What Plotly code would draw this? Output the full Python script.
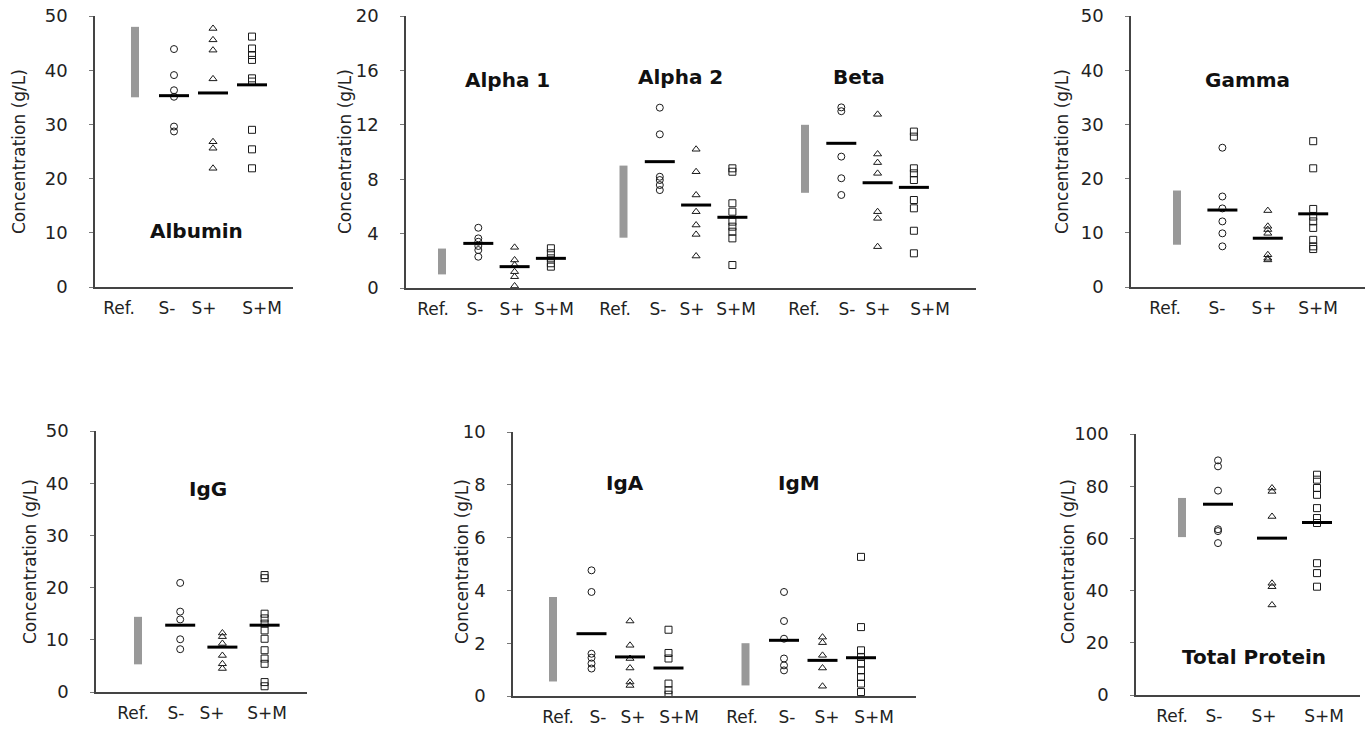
import plotly.graph_objects as go

W, H = 1368, 730
FONT = "DejaVu Sans"

CATS = ["Ref.", "S-", "S+", "S+M"]

# ---------------- data (g/L) ----------------
alb_ref = [35.0, 48.0]
alb_sneg = [43.9, 39.1, 36.3, 35.1, 29.6, 28.7]
alb_spos = [47.7, 45.6, 43.7, 38.4, 26.8, 25.6, 21.9]
alb_spm = [46.2, 44.0, 42.8, 41.9, 38.5, 37.9, 29.0, 25.4, 21.9]
alb_means = [35.3, 35.8, 37.3]

a1_ref = [1.0, 2.9]
a1_sneg = [4.43, 3.65, 3.4, 3.09, 2.79, 2.3]
a1_spos = [2.99, 2.06, 1.69, 1.2, 0.83, 0.15]
a1_spm = [2.92, 2.55, 2.18, 1.82, 1.57]
a1_means = [3.28, 1.57, 2.18]

a2_ref = [3.7, 9.0]
a2_sneg = [13.26, 11.3, 8.18, 7.94, 7.57, 7.2]
a2_spos = [10.2, 8.55, 6.84, 5.61, 4.63, 3.94, 2.35]
a2_spm = [8.8, 8.55, 6.23, 5.61, 4.88, 4.51, 4.14, 3.65, 1.69]
a2_means = [9.29, 6.1, 5.2]

beta_ref = [7.0, 12.0]
beta_sneg = [13.28, 13.0, 9.66, 8.07, 6.84]
beta_spos = [12.77, 9.85, 9.22, 8.43, 5.61, 5.12, 3.04]
beta_spm = [11.5, 11.13, 8.8, 8.43, 7.94, 6.47, 5.86, 4.21, 2.55]
beta_means = [10.64, 7.74, 7.4]

gam_ref = [7.8, 17.8]
gam_sneg = [25.7, 16.7, 14.5, 12.1, 9.9, 7.5]
gam_spos = [14.1, 11.2, 10.6, 9.9, 5.95, 5.3, 5.0]
gam_spm = [26.9, 21.9, 14.4, 13.0, 12.1, 10.9, 8.7, 7.5, 7.0]
gam_means = [14.2, 9.0, 13.5]

igg_ref = [5.3, 14.4]
igg_sneg = [20.9, 15.4, 13.9, 10.1, 8.2]
igg_spos = [11.3, 10.6, 9.3, 7.0, 5.4, 4.5]
igg_spm = [22.4, 21.8, 15.0, 14.1, 13.1, 11.8, 10.2, 8.0, 6.4, 5.4, 1.9, 1.1]
igg_means = [12.8, 8.6, 12.8]

iga_ref = [0.55, 3.75]
iga_sneg = [4.76, 3.94, 1.6, 1.45, 1.23, 1.04]
iga_spos = [2.84, 1.92, 1.42, 1.06, 0.53, 0.4]
iga_spm = [2.51, 1.63, 1.42, 0.47, 0.22, 0.05]
iga_means = [2.36, 1.48, 1.06]

igm_ref = [0.4, 2.0]
igm_sneg = [3.94, 2.84, 2.17, 1.42, 1.16, 0.97]
igm_spos = [2.23, 2.02, 1.54, 1.06, 0.37]
igm_spm = [5.27, 2.61, 1.73, 1.48, 1.23, 0.97, 0.72, 0.47, 0.15]
igm_means = [2.11, 1.35, 1.45]

tp_ref = [60.5, 75.5]
tp_sneg = [89.9, 87.6, 78.3, 63.5, 62.8, 58.2]
tp_spos = [79.3, 78.0, 68.4, 42.8, 41.5, 34.5]
tp_spm = [84.4, 82.5, 79.3, 76.7, 71.6, 67.8, 65.9, 50.5, 46.7, 41.5]
tp_means = [73.1, 60.1, 66.1]

# ---------------- layout of panels (pixel geometry) ----------------
panels = [
    dict(dom=(95, 293, 16, 287), yr=50, dtick=10, slot0=135, slot=39,
         shifts=[0, 0, 0, 0],
         analytes=[("Albumin", alb_ref, alb_sneg, alb_spos, alb_spm, alb_means, (196, 231))],
         labels_px=[119, 167, 204, 262], ytitle=(19, 152)),
    dict(dom=(406, 976, 16, 288), yr=20, dtick=4, slot0=442, slot=36.3,
         shifts=[0, 0, 0, 0],
         analytes=[("Alpha 1", a1_ref, a1_sneg, a1_spos, a1_spm, a1_means, (507, 80)),
                   ("Alpha 2", a2_ref, a2_sneg, a2_spos, a2_spm, a2_means, (680, 77)),
                   ("Beta", beta_ref, beta_sneg, beta_spos, beta_spm, beta_means, (859, 77))],
         labels_px=[433, 475, 512, 554, 615, 658, 692, 736, 804, 847, 878, 930],
         ytitle=(345, 152)),
    dict(dom=(1131, 1365, 16, 287), yr=50, dtick=10, slot0=1177, slot=45.4,
         shifts=[0, 0, 0, 0],
         analytes=[("Gamma", gam_ref, gam_sneg, gam_spos, gam_spm, gam_means, (1247, 80))],
         labels_px=[1165, 1217, 1264, 1318], ytitle=(1062, 152)),
    dict(dom=(96, 307, 431, 692), yr=50, dtick=10, slot0=138, slot=42.2,
         shifts=[0, 0, 0, 0],
         analytes=[("IgG", igg_ref, igg_sneg, igg_spos, igg_spm, igg_means, (208, 489))],
         labels_px=[133, 176, 212, 267], ytitle=(30, 562)),
    dict(dom=(513, 916, 432, 696), yr=10, dtick=2, slot0=553, slot=38.5,
         shifts=[0, 0, 0, 0],
         analytes=[("IgA", iga_ref, iga_sneg, iga_spos, iga_spm, iga_means, (625, 483)),
                   ("IgM", igm_ref, igm_sneg, igm_spos, igm_spm, igm_means, (799, 483))],
         labels_px=[558, 598, 633, 679, 742, 787, 827, 874], ytitle=(462, 562)),
    dict(dom=(1136, 1360, 434, 695), yr=100, dtick=20, slot0=1182, slot=45,
         shifts=[0, -0.2, 0, 0],
         analytes=[("Total Protein", tp_ref, tp_sneg, tp_spos, tp_spm, tp_means, (1254, 657))],
         labels_px=[1172, 1214, 1264, 1324], ytitle=(1068, 562)),
]

SYMBOLS = ["circle-open", "triangle-up-open", "square-open"]
INK = "#1a1a1a"
AXC = "#444444"

fig = go.Figure()
layout = dict(width=W, height=H, autosize=False,
              margin=dict(l=0, r=0, t=0, b=0, pad=0, autoexpand=False),
              plot_bgcolor="white", paper_bgcolor="white",
              showlegend=False, annotations=[])

for i, p in enumerate(panels):
    n = "" if i == 0 else str(i + 1)
    xa, ya = "x" + n, "y" + n
    left, right, top, bottom = p["dom"]
    s0, sp = p["slot0"], p["slot"]
    bar_w = 8.0 / sp
    half = 15.0 / sp
    for g, (title, ref, sneg, spos, spm, means, tpos) in enumerate(p["analytes"]):
        base = g * 5
        pos = [base + k + p["shifts"][k] for k in range(4)]
        # reference range bar
        fig.add_trace(go.Bar(x=[pos[0]], y=[ref[1] - ref[0]], base=[ref[0]],
                             width=bar_w, marker=dict(color="#999999", line=dict(width=0)),
                             xaxis=xa, yaxis=ya, hoverinfo="skip"))
        # individual values
        for k, vals in enumerate([sneg, spos, spm]):
            fig.add_trace(go.Scatter(x=[pos[k + 1]] * len(vals), y=vals, mode="markers",
                                     marker=dict(symbol=SYMBOLS[k], size=7, color=INK,
                                                 line=dict(width=1, color=INK)),
                                     xaxis=xa, yaxis=ya))
        # mean lines
        mx, my = [], []
        for k, m in enumerate(means):
            mx += [pos[k + 1] - half, pos[k + 1] + half, None]
            my += [m, m, None]
        fig.add_trace(go.Scatter(x=mx, y=my, mode="lines",
                                 line=dict(color="black", width=3),
                                 xaxis=xa, yaxis=ya))
        layout["annotations"].append(dict(
            text="<b>%s</b>" % title, x=tpos[0] / W, y=1 - tpos[1] / H,
            xref="paper", yref="paper", showarrow=False,
            xanchor="center", yanchor="middle",
            font=dict(family=FONT, size=20, color="#111")))
    # axes
    layout["xaxis" + n] = dict(
        domain=[left / W, right / W], anchor=ya, automargin=False,
        range=[(left - s0) / sp, (right - s0) / sp],
        tickvals=[(lp - s0) / sp for lp in p["labels_px"]],
        ticktext=CATS * len(p["analytes"]),
        ticks="", showgrid=False, zeroline=False, showline=True,
        linecolor=AXC, linewidth=1.5, ticklabelstandoff=5,
        tickfont=dict(family=FONT, size=17, color="#222"))
    layout["yaxis" + n] = dict(
        domain=[1 - bottom / H, 1 - top / H], anchor=xa, automargin=False,
        range=[0, p["yr"]], dtick=p["dtick"], tick0=0,
        ticks="outside", ticklen=4, tickcolor="#777", tickwidth=1,
        showgrid=False, zeroline=False, showline=True,
        linecolor=AXC, linewidth=1.5, ticklabelstandoff=18,
        tickfont=dict(family=FONT, size=18, color="#222"))
    layout["annotations"].append(dict(
        text="Concentration (g/L)", x=p["ytitle"][0] / W, y=1 - p["ytitle"][1] / H,
        xref="paper", yref="paper", showarrow=False, textangle=-90,
        xanchor="center", yanchor="middle",
        font=dict(family=FONT, size=17, color="#222")))

fig.update_layout(**layout)
fig.write_html("out.html", config={"displayModeBar": False},
               post_script="document.body.style.margin='0px';document.body.style.overflow='hidden';")
